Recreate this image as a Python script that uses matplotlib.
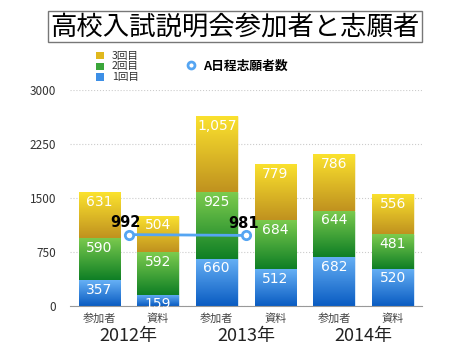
import numpy as np
import matplotlib.pyplot as plt
from matplotlib.colors import LinearSegmentedColormap
from matplotlib.lines import Line2D
from matplotlib.patches import Rectangle

plt.rcParams['font.family'] = ['Noto Sans CJK JP', 'DejaVu Sans']

# data
bar_labels = ["参加者", "資料", "参加者", "資料", "参加者", "資料"]
years = ["2012年", "2013年", "2014年"]
round1 = [357, 159, 660, 512, 682, 520]
round2 = [590, 592, 925, 684, 644, 481]
round3 = [631, 504, 1057, 779, 786, 556]
a_x = [0.5, 2.5]
a_applicants = [992, 981]

series = [("1回目", round1, "#3d8fe6", "#66b0f5", "#0a5cc2"),
          ("2回目", round2, "#3aa63a", "#7ccb4e", "#0f7f25"),
          ("3回目", round3, "#e0b81e", "#fbe22e", "#c0921f")]

W, H = 470, 353
fig = plt.figure(figsize=(W / 100, H / 100), dpi=100)
ax = fig.add_axes([0.149, 0.133, 0.749, 0.612])

x = np.arange(len(bar_labels))
width = 0.71
bottom = np.zeros(len(x))
for name, vals, col, top_c, bot_c in series:
    vals = np.array(vals)
    bars = ax.bar(x, vals, width, bottom=bottom, color=col, label=name,
                  edgecolor="white", linewidth=0.4, zorder=2)
    cmap = LinearSegmentedColormap.from_list(name, [bot_c, top_c])
    grad = np.linspace(0, 1, 64).reshape(-1, 1)
    for b in bars:
        bx, by = b.get_x(), b.get_y()
        im = ax.imshow(grad, cmap=cmap, origin="lower", aspect="auto",
                       extent=[bx, bx + b.get_width(), by, by + b.get_height()],
                       zorder=2.1)
        im.set_clip_path(b)
    for xi, v, b0 in zip(x, vals, bottom):
        top = b0 + v
        ax.annotate(f"{v:,}", (xi, top), xytext=(0, -2), textcoords="offset points",
                    ha="center", va="top", color="white", fontsize=10,
                    family="DejaVu Sans", zorder=4)
    bottom = bottom + vals

ax.plot(a_x, a_applicants, color="#55a5f2", lw=2, marker="o", ms=6,
        mfc="white", mec="#55a5f2", mew=2, zorder=5)
for xi, v in zip(a_x, a_applicants):
    ax.annotate(f"{v}", (xi, v), xytext=(-2, 3), textcoords="offset points",
                ha="center", va="bottom", fontsize=10.5, fontweight="bold",
                family="DejaVu Sans", zorder=6)

ax.set_xlim(-0.5, 5.5)
ax.set_ylim(0, 3000)
ax.set_yticks([0, 750, 1500, 2250, 3000])
ax.tick_params(axis="y", length=0, labelsize=8.5, labelcolor="#333333", pad=10)
ax.set_xticks(x)
ax.set_xticklabels(bar_labels, fontsize=8, color="#444444")
ax.tick_params(axis="x", length=0, pad=5)
ax.grid(axis="y", color="#cccccc", linestyle=":", linewidth=0.8, zorder=0)
for s in ["left", "right", "top"]:
    ax.spines[s].set_visible(False)
ax.spines["bottom"].set_color("#999999")
ax.set_axisbelow(True)

for i, yr in enumerate(years):
    ax.text(2 * i + 0.5, -0.14, yr, transform=ax.get_xaxis_transform(),
            ha="center", va="center", fontsize=13, color="#222222")

# legend for stacked series (drawn by hand to get the tight spacing)
for k, (name, vals, col, top_c, bot_c) in enumerate(series[::-1]):
    yc = 55.5 + k * 10.8
    fig.add_artist(Rectangle((96 / W, 1 - (yc + 3.7) / H), 7.5 / W, 7.5 / H,
                             transform=fig.transFigure, color=col, lw=0))
    fig.text(112 / W, 1 - yc / H, name, ha="left", va="center",
             fontsize=7.6, color="#333333")

marker_handle = Line2D([], [], linestyle="none", marker="o", ms=5, mfc="white",
                       mec="#55a5f2", mew=2)
fig.legend([marker_handle], ["A日程志願者数"], loc="center left",
           bbox_to_anchor=(179 / W, 1 - 66 / H), frameon=False,
           handlelength=0.8, handletextpad=0.55, borderpad=0,
           prop={"weight": "bold", "size": 9.2})

fig.text(0.5, 0.924, "高校入試説明会参加者と志願者", ha="center", va="center",
         fontsize=19, color="black",
         bbox=dict(boxstyle="square,pad=0.08", fc="white", ec="#777777", lw=1))

fig.savefig("out.png", dpi=100)
